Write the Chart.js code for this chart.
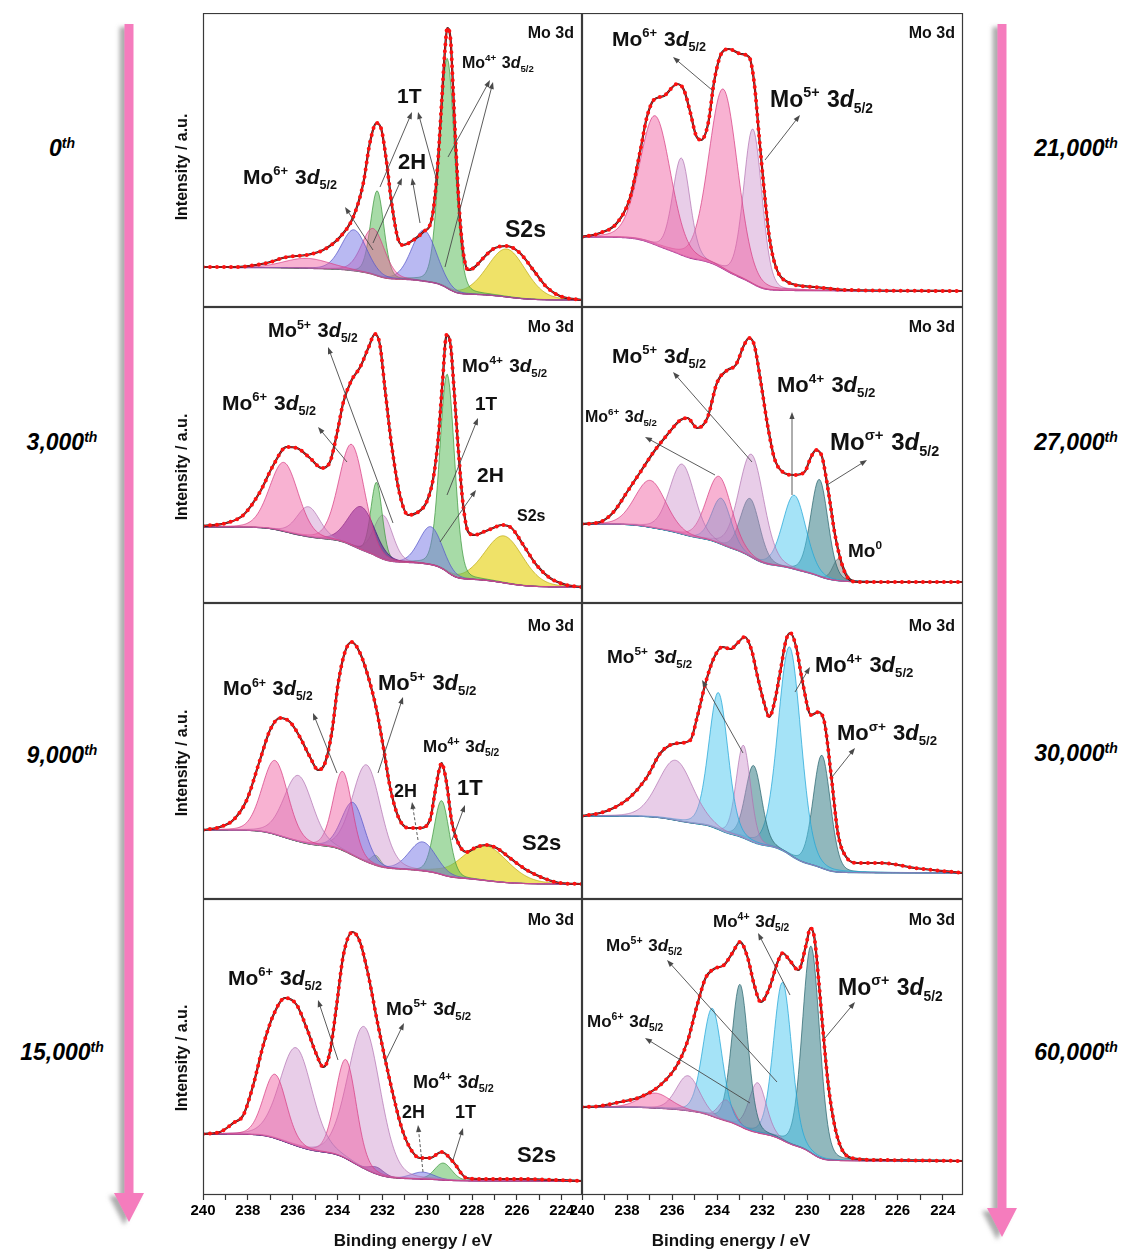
<!DOCTYPE html>
<html>
<head>
<meta charset="utf-8">
<script src="https://cdn.jsdelivr.net/npm/chart.js@4.4.1/dist/chart.umd.min.js"></script>
<style>
    body { margin: 0; background: #fff; }
    #page { position: relative; width: 1131px; height: 1251px; overflow: hidden; font-family: "Liberation Sans", Arial, sans-serif; }
    #page canvas { position: absolute; }
    .side { position: absolute; width: 150px; text-align: center; font: italic bold 23px "Liberation Sans", Arial, sans-serif; color: #000; line-height: 28px; }
    .side sup { font-size: 14px; vertical-align: 8px; line-height: 0; }
    .ytitle { position: absolute; width: 200px; height: 20px; line-height: 20px; text-align: center; font: bold 16px "Liberation Sans", Arial, sans-serif; color: #111; transform: rotate(-90deg); white-space: nowrap; }
    .xtitle { position: absolute; width: 260px; height: 20px; line-height: 20px; text-align: center; font: bold 17px "Liberation Sans", Arial, sans-serif; color: #111; white-space: nowrap; }
    svg { position: absolute; left: 0; top: 0; }
</style>
</head>
<body>
<div id="page">
    <svg width="1131" height="1251">
        <defs>
            <filter id="shadow" x="-50%" y="-5%" width="200%" height="110%">
                <feDropShadow dx="-5" dy="3" stdDeviation="2" flood-color="#777" flood-opacity="0.6"/>
            </filter>
        </defs>
        <polygon filter="url(#shadow)" fill="#f57cbd" points="124.5,24 133.5,24 133.5,1193 144,1193 129,1222 114,1193 124.5,1193"/>
        <polygon filter="url(#shadow)" fill="#f57cbd" points="997.5,24 1006.5,24 1006.5,1208 1017,1208 1002,1237 987,1208 997.5,1208"/>
    </svg>
</div>

<script>
// x axis (binding energy, reversed)
const X_MIN = 223.1;
const X_MAX = 240;
const TICK_LABELS = [240, 238, 236, 234, 232, 230, 228, 226, 224];
const LEFT_CYCLES = ["0", "3,000", "9,000", "15,000"];
const RIGHT_CYCLES = ["21,000", "27,000", "30,000", "60,000"];

// ---- 0th ----
const S0_ENV_E = [240, 238.65, 237.16, 236.27, 235.38, 234.64, 233.89, 233.3, 232.85, 232.56, 232.26, 232.04, 231.81, 231.59, 231.29, 231.07, 230.62, 230.18, 229.81, 229.66, 229.51, 229.36, 229.21, 229.11, 228.96, 228.84, 228.72, 228.57, 228.39, 228.17, 227.88, 227.5, 227.06, 226.46, 225.87, 225.27, 224.68, 224.09, 223.1];
const S0_ENV_I = [40, 40, 44, 50, 52, 57, 70, 90, 124, 164, 184, 177, 144, 104, 67, 62, 67, 75, 87, 110, 150, 204, 257, 279, 267, 214, 157, 97, 54, 37, 40, 49, 58, 61, 54, 37, 20, 11, 7];
const S0_CENTER = [235.38, 233.27, 232.41, 232.23, 230.15, 229.11, 226.46];
const S0_HEIGHT = [10, 41, 46, 85, 51, 230, 48];
const S0_FWHM = [2.4, 1.3, 1.2, 0.7, 1.3, 0.8, 2.0];
const S0_KIND = ["p6", "b", "p6", "g", "b", "g", "y"];
const S0_BG = [39.5, 7];

// ---- 3,000th ----
const S3K_ENV_E = [240, 238.95, 238.2, 237.46, 236.86, 236.27, 235.82, 235.23, 234.71, 234.34, 234.04, 233.74, 233.37, 232.99, 232.63, 232.33, 232.11, 231.89, 231.59, 231.22, 230.85, 230.48, 230.03, 229.73, 229.51, 229.32, 229.14, 228.96, 228.81, 228.62, 228.4, 228.17, 227.88, 227.5, 227.06, 226.69, 226.24, 225.72, 225.13, 224.53, 223.79, 223.1];
const S3K_ENV_I = [77, 80, 88, 111, 138, 156, 155, 145, 135, 141, 168, 201, 223, 236, 255, 269, 258, 215, 158, 108, 88, 90, 101, 125, 165, 221, 268, 258, 215, 155, 98, 71, 68, 71, 75, 78, 75, 58, 38, 25, 18, 16];
const S3K_CENTER = [236.39, 235.3, 233.37, 232.93, 232.26, 231.96, 229.85, 229.11, 226.58];
const S3K_HEIGHT = [69, 30, 101, 43, 74, 44, 38, 198, 47];
const S3K_FWHM = [1.5, 1.2, 1.34, 1.4, 0.6, 1.0, 1.2, 0.77, 2.0];
const S3K_KIND = ["p6", "p5", "p6", "v", "g", "p5", "b", "g", "y"];
const S3K_BG = [76, 16];

// ---- 9,000th ----
const S9K_ENV_E = [240, 239.24, 238.65, 238.05, 237.46, 237.01, 236.57, 236.12, 235.68, 235.23, 234.86, 234.56, 234.26, 233.97, 233.67, 233.37, 233.0, 232.63, 232.26, 231.96, 231.66, 231.29, 230.85, 230.33, 229.88, 229.66, 229.48, 229.36, 229.22, 229.1, 228.92, 228.62, 228.25, 227.8, 227.36, 226.91, 226.31, 225.57, 224.83, 224.09, 223.1];
const S9K_ENV_I = [69, 72, 79, 99, 139, 169, 181, 177, 162, 142, 129, 136, 166, 216, 247, 257, 246, 222, 189, 152, 112, 82, 71, 71, 79, 106, 128, 136, 126, 110, 79, 56, 47, 52, 54, 51, 41, 29, 21, 16, 15];
const S9K_CENTER = [236.79, 235.75, 233.77, 233.3, 232.7, 232.29, 230.21, 229.36, 227.43];
const S9K_HEIGHT = [74, 66, 79, 53, 97, 10, 29, 74, 35];
const S9K_FWHM = [1.34, 1.5, 1.0, 1.2, 1.5, 0.5, 1.4, 0.8, 2.4];
const S9K_KIND = ["p6", "p5", "p6", "b", "p5", "g", "b", "g", "y"];
const S9K_BG = [69, 15];

// ---- 15,000th ----
const S15K_ENV_E = [240, 239.24, 238.65, 238.2, 237.76, 237.31, 236.86, 236.34, 235.82, 235.38, 234.93, 234.64, 234.34, 234.04, 233.74, 233.33, 233.0, 232.63, 232.26, 231.89, 231.52, 231.14, 230.77, 230.33, 229.88, 229.36, 228.84, 228.25, 227.5, 226.0, 223.1];
const S15K_ENV_I = [61, 63, 72, 80, 110, 150, 180, 197, 190, 167, 140, 128, 143, 190, 240, 263, 253, 220, 177, 137, 100, 67, 47, 37, 37, 43, 33, 17, 16, 16, 14];
const S15K_CENTER = [236.79, 235.85, 233.63, 232.81, 232.26, 230.21, 229.29];
const S15K_HEIGHT = [64, 98, 99, 142, 7, 7, 17];
const S15K_FWHM = [1.2, 1.7, 1.1, 1.7, 0.8, 1.2, 0.9];
const S15K_KIND = ["p6", "p5", "p6", "p5", "v", "b", "g"];
const S15K_BG = [61, 14];

// ---- 21,000th ----
const S21K_ENV_E = [240, 239.2, 238.45, 237.86, 237.41, 237.12, 236.82, 236.37, 235.78, 235.48, 235.19, 234.95, 234.72, 234.4, 234.15, 233.85, 233.48, 232.96, 232.59, 232.36, 232.14, 231.92, 231.69, 231.4, 230.88, 229.69, 228.2, 223.1];
const S21K_ENV_I = [70, 74, 84, 110, 157, 190, 207, 211, 223, 217, 194, 172, 167, 184, 224, 252, 258, 253, 250, 224, 170, 117, 70, 40, 25, 20, 17, 16];
const S21K_CENTER = [236.75, 235.59, 233.73, 232.42];
const S21K_HEIGHT = [129, 97, 180, 155];
const S21K_FWHM = [1.6, 0.9, 1.5, 0.95];
const S21K_KIND = ["p6", "p5", "p6", "p5"];
const S21K_BG = [70, 16];

// ---- 27,000th ----
const S27K_ENV_E = [240, 239.2, 238.6, 238.0, 237.41, 236.82, 236.23, 235.63, 235.33, 234.89, 234.44, 234.0, 233.55, 233.18, 232.81, 232.59, 232.36, 232.07, 231.77, 231.47, 231.1, 230.58, 230.13, 229.84, 229.62, 229.35, 229.17, 228.98, 228.8, 228.5, 228.2, 227.76, 223.1];
const S27K_ENV_I = [79, 81, 91, 111, 131, 151, 168, 183, 185, 175, 185, 221, 233, 238, 258, 265, 258, 221, 178, 145, 131, 128, 131, 146, 153, 146, 125, 98, 71, 41, 25, 21, 21];
const S27K_CENTER = [236.97, 235.56, 233.92, 233.82, 232.48, 232.54, 230.58, 229.47, 228.62];
const S27K_HEIGHT = [47, 70, 67, 46, 103, 58, 74, 97, 22];
const S27K_FWHM = [1.6, 1.3, 1.3, 1.0, 1.3, 1.0, 1.2, 0.9, 0.6];
const S27K_KIND = ["p6", "p5", "p6", "c", "p5", "t", "c", "t", "k"];
const S27K_BG = [79, 21];

// ---- 30,000th ----
const S30K_ENV_E = [240, 239.2, 238.6, 237.86, 237.12, 236.52, 236.08, 235.63, 235.19, 234.89, 234.52, 234.15, 233.77, 233.4, 233.1, 232.78, 232.48, 232.21, 231.92, 231.69, 231.47, 231.17, 230.95, 230.76, 230.5, 230.21, 229.84, 229.51, 229.24, 228.94, 228.65, 228.28, 227.76, 226.72, 225.23, 223.1];
const S30K_ENV_I = [83, 86, 91, 102, 122, 146, 154, 156, 159, 182, 216, 241, 252, 250, 256, 262, 249, 222, 196, 182, 196, 232, 259, 266, 252, 216, 184, 187, 176, 122, 66, 42, 36, 36, 31, 26];
const S30K_CENTER = [235.85, 233.95, 232.84, 232.39, 230.79, 229.36];
const S30K_HEIGHT = [60, 137, 93, 77, 208, 113];
const S30K_FWHM = [1.8, 1.0, 0.75, 0.85, 1.19, 0.9];
const S30K_KIND = ["p5", "c", "p5", "t", "c", "t"];
const S30K_BG = [83, 26];

// ---- 60,000th ----
const S60K_ENV_E = [240, 239.2, 238.31, 237.41, 236.52, 235.78, 235.33, 234.89, 234.52, 234.15, 233.7, 233.33, 232.99, 232.66, 232.36, 232.07, 231.69, 231.32, 231.1, 230.8, 230.4, 230.06, 229.87, 229.69, 229.51, 229.32, 229.09, 228.8, 228.5, 228.05, 226.72, 223.1];
const S60K_ENV_I = [88, 89, 93, 98, 110, 130, 153, 190, 217, 226, 230, 242, 253, 238, 210, 193, 207, 233, 242, 235, 225, 250, 267, 257, 217, 167, 113, 70, 47, 37, 35, 34];
const S60K_CENTER = [236.75, 235.3, 234.22, 233.6, 232.99, 232.21, 231.1, 229.84];
const S60K_HEIGHT = [15, 35, 108, 21, 142, 50, 158, 207];
const S60K_FWHM = [1.6, 1.2, 1.0, 0.8, 0.85, 0.9, 0.95, 0.9];
const S60K_KIND = ["p6", "p5", "c", "p6", "t", "p5", "c", "t"];
const S60K_BG = [88, 34];

// component colours
const KIND_STYLE = {
    p6: { fill: "rgba(240,85,155,0.45)", line: "rgba(215,60,130,0.9)" },
    p5: { fill: "rgba(205,145,205,0.45)", line: "rgba(175,110,175,0.85)" },
    g:  { fill: "rgba(95,190,95,0.55)",  line: "rgba(60,150,60,0.9)" },
    b:  { fill: "rgba(115,115,230,0.5)", line: "rgba(85,85,200,0.9)" },
    v:  { fill: "rgba(90,20,155,0.6)",   line: "rgba(70,10,120,0.9)" },
    y:  { fill: "rgba(232,214,40,0.7)",  line: "rgba(190,170,20,0.9)" },
    c:  { fill: "rgba(75,200,240,0.5)",  line: "rgba(30,165,215,0.9)" },
    t:  { fill: "rgba(55,125,135,0.55)", line: "rgba(40,100,110,0.9)" },
    k:  { fill: "rgba(150,150,150,0.6)", line: "rgba(110,110,110,0.9)" }
};

const COL_LEFT = [203, 582];
const COL_WIDTH = [379, 381];
const ROW_TOP = [13, 307, 603, 899];
const ROW_HEIGHT = [294, 296, 296, 296];
const AXIS_H = 56;
const SIDE_PAD = 20;

function mo(sup) {
    return [["Mo", "n"], [sup, "sup"], [" 3", "n"], ["d", "i"], ["5/2", "sub"]];
}
function plain(t) { return [[t, "n"]]; }

const PANELS = [
    { col: 0, row: 0, env: [S0_ENV_E, S0_ENV_I], peaks: [S0_CENTER, S0_HEIGHT, S0_FWHM, S0_KIND], bg: S0_BG, bgColor: "#8a2b8a", moY: 25,
      labels: [[40, 171, 21, mo("6+")], [194, 90, 21, plain("1T")], [195, 156, 22, plain("2H")], [259, 55, 16, mo("4+")], [302, 224, 23, plain("S2s")]],
      arrows: [[170, 237, 142, 194], [177, 174, 209, 99], [235, 172, 215, 99], [170, 230, 199, 165], [217, 210, 209, 165], [245, 144, 287, 67], [242, 254, 290, 69]] },
    { col: 1, row: 0, env: [S21K_ENV_E, S21K_ENV_I], peaks: [S21K_CENTER, S21K_HEIGHT, S21K_FWHM, S21K_KIND], bg: S21K_BG, bgColor: "#a0288c", moY: 25,
      labels: [[30, 33, 21, mo("6+")], [188, 94, 23, mo("5+")]],
      arrows: [[130, 77, 91, 44], [183, 147, 218, 102]] },
    { col: 0, row: 1, env: [S3K_ENV_E, S3K_ENV_I], peaks: [S3K_CENTER, S3K_HEIGHT, S3K_FWHM, S3K_KIND], bg: S3K_BG, bgColor: "#7a1f8a", moY: 25,
      labels: [[65, 30, 20, mo("5+")], [19, 103, 21, mo("6+")], [259, 65, 19, mo("4+")], [272, 103, 19, plain("1T")], [274, 175, 21, plain("2H")], [314, 214, 16, plain("S2s")]],
      arrows: [[190, 216, 125, 40], [144, 155, 115, 120], [244, 188, 275, 111], [237, 235, 273, 183]] },
    { col: 1, row: 1, env: [S27K_ENV_E, S27K_ENV_I], peaks: [S27K_CENTER, S27K_HEIGHT, S27K_FWHM, S27K_KIND], bg: S27K_BG, bgColor: "#1ea5c8", moY: 25,
      labels: [[30, 56, 21, mo("5+")], [3, 115, 16, mo("6+")], [195, 85, 22, mo("4+")], [248, 143, 24, mo("σ+")], [266, 250, 19, [["Mo", "n"], ["0", "sup"]]]],
      arrows: [[170, 155, 91, 65], [133, 168, 63, 130], [210, 188, 210, 105], [245, 178, 285, 153]] },
    { col: 0, row: 2, env: [S9K_ENV_E, S9K_ENV_I], peaks: [S9K_CENTER, S9K_HEIGHT, S9K_FWHM, S9K_KIND], bg: S9K_BG, bgColor: "#9a2a80", moY: 28,
      labels: [[20, 92, 20, mo("6+")], [175, 87, 22, mo("5+")], [220, 149, 17, mo("4+")], [191, 194, 18, plain("2H")], [254, 192, 22, plain("1T")], [319, 247, 22, plain("S2s")]],
      arrows: [[134, 170, 110, 110], [175, 170, 200, 94], [215, 237, 209, 199, true], [249, 237, 262, 202]] },
    { col: 1, row: 2, env: [S30K_ENV_E, S30K_ENV_I], peaks: [S30K_CENTER, S30K_HEIGHT, S30K_FWHM, S30K_KIND], bg: S30K_BG, bgColor: "#1c9ab8", moY: 28,
      labels: [[25, 60, 19, mo("5+")], [233, 69, 22, mo("4+")], [255, 137, 22, mo("σ+")]],
      arrows: [[161, 150, 120, 77], [213, 89, 228, 64], [250, 174, 273, 145]] },
    { col: 0, row: 3, env: [S15K_ENV_E, S15K_ENV_I], peaks: [S15K_CENTER, S15K_HEIGHT, S15K_FWHM, S15K_KIND], bg: S15K_BG, bgColor: "#9a2a80", moY: 26,
      labels: [[25, 86, 21, mo("6+")], [183, 116, 19, mo("5+")], [210, 189, 18, mo("4+")], [199, 219, 18, plain("2H")], [252, 219, 18, plain("1T")], [314, 263, 22, plain("S2s")]],
      arrows: [[135, 161, 115, 101], [182, 163, 201, 124], [220, 273, 215, 226, true], [250, 261, 260, 229]] },
    { col: 1, row: 3, env: [S60K_ENV_E, S60K_ENV_I], peaks: [S60K_CENTER, S60K_HEIGHT, S60K_FWHM, S60K_KIND], bg: S60K_BG, bgColor: "#c0307a", moY: 26,
      labels: [[131, 28, 17, mo("4+")], [24, 52, 17, mo("5+")], [5, 128, 17, mo("6+")], [256, 96, 23, mo("σ+")]],
      arrows: [[208, 96, 176, 34], [195, 183, 85, 61], [168, 204, 63, 139], [243, 139, 273, 103]] }
];

const FONT = '"Liberation Sans", Arial, sans-serif';

// fitted component line shape (mostly gaussian, a little lorentzian)
function peakShape(E, c, h, w) {
    const d = (E - c) / w;
    return h * (0.85 * Math.exp(-4 * Math.LN2 * d * d) + 0.15 / (1 + 4 * d * d));
}

function drawRich(ctx, x, y, parts, size) {
    let cx = x;
    parts.forEach(([t, s]) => {
        let fs = size, dy = 0, style = "";
        if (s === "sup") { fs = size * 0.62; dy = -size * 0.42; }
        if (s === "sub") { fs = size * 0.6; dy = size * 0.24; }
        if (s === "i") style = "italic ";
        ctx.font = style + "bold " + fs.toFixed(1) + "px " + FONT;
        ctx.fillText(t, cx, y + dy);
        cx += ctx.measureText(t).width + (s === "sup" ? 1 : 0);
    });
}

function drawArrow(ctx, x1, y1, x2, y2, dashed) {
    ctx.save();
    ctx.strokeStyle = "#4a4a4a";
    ctx.fillStyle = "#4a4a4a";
    ctx.lineWidth = 0.9;
    ctx.setLineDash(dashed ? [3, 2] : []);
    const a = Math.atan2(y2 - y1, x2 - x1);
    ctx.beginPath();
    ctx.moveTo(x1, y1);
    ctx.lineTo(x2 - 5 * Math.cos(a), y2 - 5 * Math.sin(a));
    ctx.stroke();
    ctx.setLineDash([]);
    ctx.beginPath();
    ctx.moveTo(x2, y2);
    ctx.lineTo(x2 - 7 * Math.cos(a) + 2.6 * Math.sin(a), y2 - 7 * Math.sin(a) - 2.6 * Math.cos(a));
    ctx.lineTo(x2 - 7 * Math.cos(a) - 2.6 * Math.sin(a), y2 - 7 * Math.sin(a) + 2.6 * Math.cos(a));
    ctx.closePath();
    ctx.fill();
    ctx.restore();
}

const page = document.getElementById("page");

PANELS.forEach(panel => {
    const bottomRow = panel.row === 3;
    const w = COL_WIDTH[panel.col] + 2 * SIDE_PAD;
    const h = ROW_HEIGHT[panel.row] + (bottomRow ? AXIS_H : 0);
    const canvas = document.createElement("canvas");
    canvas.width = w;
    canvas.height = h;
    canvas.style.left = (COL_LEFT[panel.col] - SIDE_PAD) + "px";
    canvas.style.top = ROW_TOP[panel.row] + "px";
    canvas.style.width = w + "px";
    canvas.style.height = h + "px";
    page.appendChild(canvas);

    // energy grid for components
    const grid = [];
    for (let i = 0; X_MAX - i * 0.05 >= X_MIN - 1e-9; i++) grid.push(+(X_MAX - i * 0.05).toFixed(2));

    const [centers, heights, widths, kinds] = panel.peaks;
    const comps = centers.map((c, k) => grid.map(E => peakShape(E, c, heights[k], widths[k])));
    const sum = grid.map((E, i) => comps.reduce((s, p) => s + p[i], 0));

    // Shirley-type background from the components
    const cum = new Array(grid.length).fill(0);
    for (let i = grid.length - 1; i >= 0; i--) cum[i] = sum[i] + (i < grid.length - 1 ? cum[i + 1] : 0);
    const [bgL, bgR] = panel.bg;
    const bg = grid.map((E, i) => bgR + (bgL - bgR) * cum[i] / cum[0]);

    const datasets = [];
    datasets.push({
        data: grid.map((E, i) => ({ x: E, y: bg[i] })),
        borderColor: panel.bgColor, borderWidth: 1.2, pointRadius: 0, fill: false, order: 50
    });
    comps.forEach((p, k) => {
        const st = KIND_STYLE[kinds[k]];
        datasets.push({
            data: grid.map((E, i) => ({ x: E, y: bg[i] + p[i] })),
            borderColor: st.line, backgroundColor: st.fill, borderWidth: 0.8,
            pointRadius: 0, fill: 0, order: 20
        });
    });
    const envData = panel.env[0].map((E, i) => ({ x: E, y: panel.env[1][i] }));
    datasets.push({ data: envData, borderColor: "#1a1a1a", borderWidth: 2.2, pointRadius: 0, fill: false, cubicInterpolationMode: "monotone", order: 3 });
    datasets.push({ data: envData, borderColor: "#ff1a1a", borderWidth: 1.1, pointRadius: 0, fill: false, cubicInterpolationMode: "monotone", order: 2 });
    datasets.push({ data: envData, borderColor: "#ff1010", borderWidth: 4, borderDash: [0, 7], borderCapStyle: "round", pointRadius: 0, fill: false, cubicInterpolationMode: "monotone", order: 1 });

    const decor = {
        id: "decor",
        afterDatasetsDraw(chart) {
            const ctx = chart.ctx;
            const a = chart.chartArea;
            ctx.save();
            panel.arrows.forEach(ar => drawArrow(ctx, a.left + ar[0], a.top + ar[1], a.left + ar[2], a.top + ar[3], ar[4]));
            ctx.fillStyle = "#111";
            ctx.textBaseline = "alphabetic";
            ctx.textAlign = "left";
            panel.labels.forEach(l => drawRich(ctx, a.left + l[0], a.top + l[1], l[3], l[2]));
            ctx.font = "bold 16px " + FONT;
            ctx.textAlign = "right";
            ctx.fillText("Mo 3d", a.right - 8, a.top + panel.moY);
            ctx.strokeStyle = "#3a3a3a";
            ctx.lineWidth = 1.2;
            ctx.strokeRect(a.left + 0.5, a.top + 0.5, a.right - a.left - 1, a.bottom - a.top - 1);
            ctx.restore();
        }
    };

    new Chart(canvas, {
        type: "line",
        data: { datasets },
        options: {
            responsive: false,
            animation: false,
            events: [],
            layout: { padding: { left: SIDE_PAD, right: SIDE_PAD, top: 0, bottom: 0 } },
            plugins: { legend: { display: false }, tooltip: { enabled: false } },
            elements: { line: { tension: 0 } },
            scales: {
                x: {
                    type: "linear", reverse: true, min: X_MIN, max: X_MAX,
                    display: bottomRow,
                    afterFit: s => { if (bottomRow) s.height = AXIS_H; },
                    border: { display: false },
                    grid: { drawOnChartArea: false, tickLength: 5, tickColor: "#333", tickWidth: 1.2 },
                    ticks: {
                        stepSize: 1, autoSkip: false, maxRotation: 0, minRotation: 0, includeBounds: false,
                        padding: 2, color: "#000", font: { family: FONT, size: 15, weight: "bold" },
                        callback: v => TICK_LABELS.includes(v) ? String(v) : ""
                    }
                },
                y: { type: "linear", min: 0, max: ROW_HEIGHT[panel.row], display: false }
            }
        },
        plugins: [decor]
    });
});

// side labels, axis titles
function addDiv(cls, html, left, top) {
    const d = document.createElement("div");
    d.className = cls;
    d.innerHTML = html;
    d.style.left = left + "px";
    d.style.top = top + "px";
    page.appendChild(d);
}
const LEFT_Y = [148, 442, 755, 1052];
const RIGHT_Y = [148, 442, 753, 1052];
LEFT_CYCLES.forEach((c, i) => addDiv("side", c + "<sup>th</sup>", 62 - 75, LEFT_Y[i] - 14));
RIGHT_CYCLES.forEach((c, i) => addDiv("side", c + "<sup>th</sup>", 1076 - 75, RIGHT_Y[i] - 14));
const YTITLE_Y = [167, 467, 763, 1058];
YTITLE_Y.forEach(y => addDiv("ytitle", "Intensity / a.u.", 183 - 100, y - 10));
addDiv("xtitle", "Binding energy / eV", 413 - 130, 1241 - 10);
addDiv("xtitle", "Binding energy / eV", 731 - 130, 1241 - 10);
</script>
</body>
</html>
